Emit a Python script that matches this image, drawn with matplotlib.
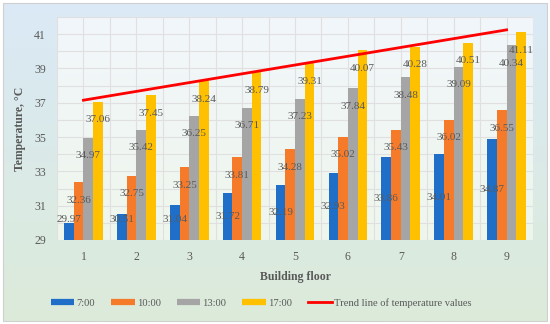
import numpy as np
import matplotlib.pyplot as plt
from matplotlib.lines import Line2D
from matplotlib.patches import Rectangle
from matplotlib.colors import LinearSegmentedColormap

plt.rcParams['font.family'] = ['Liberation Serif', 'DejaVu Serif']

# Data
floors = [1, 2, 3, 4, 5, 6, 7, 8, 9]
t_0700 = [29.97, 30.51, 31.04, 31.72, 32.19, 32.93, 33.86, 34.01, 34.87]
t_1000 = [32.36, 32.75, 33.25, 33.81, 34.28, 35.02, 35.43, 36.02, 36.55]
t_1300 = [34.97, 35.42, 36.25, 36.71, 37.23, 37.84, 38.48, 39.09, 40.34]
t_1700 = [37.06, 37.45, 38.24, 38.79, 39.31, 40.07, 40.28, 40.51, 41.11]
series_names = ['7:00', '10:00', '13:00', '17:00']
trend_floors = [1, 9]
trend_values = [37.15, 41.25]

colors = ['#1f6fc8', '#f57b2b', '#a5a5a5', '#ffc000']
text_gray = '#595959'

fig = plt.figure(figsize=(5.5, 3.24), dpi=100)

# Outer chart background: blue-to-green gradient with a thin frame
bg = fig.add_axes([0, 0, 1, 1], zorder=-10)
bg.set_xlim(0, 1)
bg.set_ylim(0, 1)
bg.axis('off')
outer_cmap = LinearSegmentedColormap.from_list('outer', ['#dcebd9', '#dae9f6'])
grad = np.linspace(0, 1, 256).reshape(-1, 1)
bg.imshow(grad, cmap=outer_cmap, origin='lower', aspect='auto',
          extent=[3 / 550, 547 / 550, 3 / 324, 321 / 324])
bg.add_patch(Rectangle((3 / 550, 3 / 324), 544 / 550, 318 / 324, fill=False,
                       edgecolor='#d0d0d0', linewidth=0.8))

# Plot area
pos = [57 / 550, 1 - 240 / 324, 476 / 550, 223 / 324]
pa = fig.add_axes(pos, zorder=-5)
pa.axis('off')
inner_cmap = LinearSegmentedColormap.from_list('inner', ['#eef6ec', '#f2f7fb'])
pa.imshow(grad, cmap=inner_cmap, origin='lower', aspect='auto', extent=[0, 1, 0, 1])
pa.set_xlim(0, 1)
pa.set_ylim(0, 1)

ax = fig.add_axes(pos)
ax.set_facecolor('none')

x = np.array(floors)
w = 0.183
all_series = [t_0700, t_1000, t_1300, t_1700]
for i, (vals, name, c) in enumerate(zip(all_series, series_names, colors)):
    xs = x + (i - 1.5) * w
    ax.bar(xs, np.array(vals) - 29, bottom=29, width=w, color=c, label=name, zorder=2)

for i, vals in enumerate(all_series):
    xs = x + (i - 1.5) * w
    for xi, v in zip(xs, vals):
        if i == 0:
            yl = max((29 + v) / 2, 30.2)
        else:
            yl = v - 1.05
        ax.text(xi, yl, f'{v:.2f}', ha='center', va='center', fontsize=8,
                color=text_gray, zorder=4)

ax.plot(trend_floors, trend_values, color='#ff0000', linewidth=2, zorder=3,
        label='Trend line of temperature values')

ax.set_xlim(0.5, 9.5)
ax.set_ylim(29, 42)
ax.set_yticks(np.arange(29, 42, 2))
ax.set_yticks(np.arange(29, 43, 1), minor=True)
ax.set_xticks(floors)
ax.set_xticks(np.arange(0.5, 9.6, 0.5), minor=True)
ax.grid(which='both', color='#e0e0e0', linewidth=0.8, zorder=0)
ax.set_axisbelow(True)
for s in ax.spines.values():
    s.set_visible(False)
ax.tick_params(which='both', length=0)
ax.tick_params(axis='y', labelsize=8.5, labelcolor=text_gray, pad=8)
ax.tick_params(axis='x', labelsize=8.5, labelcolor=text_gray, pad=8)

ax.set_ylabel('Temperature, °C', fontsize=8.5, fontweight='bold', color=text_gray, labelpad=6)
ax.set_xlabel('Building floor', fontsize=8.5, fontweight='bold', color=text_gray, labelpad=6)

handles = [Line2D([], [], color=c, linewidth=4.5, solid_capstyle='butt') for c in colors]
handles.append(Line2D([], [], color='#ff0000', linewidth=2))
labels = series_names + ['Trend line of temperature values']
leg = fig.legend(handles, labels, loc='center', bbox_to_anchor=(261 / 550, 1 - 303 / 324),
                 ncol=5, frameon=False, fontsize=7.6, handlelength=2.25,
                 handletextpad=0.2, columnspacing=1.5)
for t in leg.get_texts():
    t.set_color(text_gray)

fig.savefig('out.png', dpi=100)
